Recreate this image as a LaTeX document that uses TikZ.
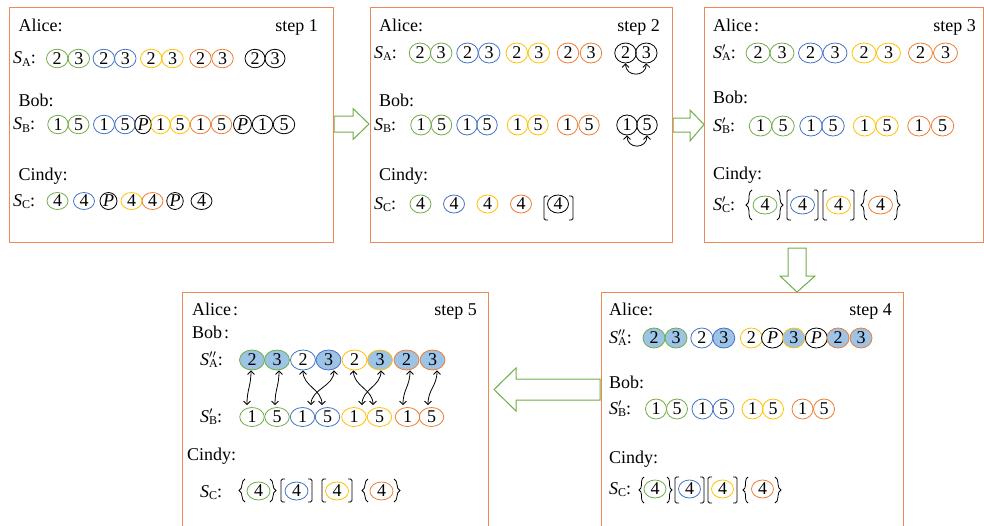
\documentclass[tikz,border=0pt]{standalone}
\usepackage{fontspec}
\setmainfont{Liberation Serif}
\usetikzlibrary{shapes.geometric,decorations.pathreplacing,calc,arrows.meta}
\definecolor{cg}{HTML}{70AD47}
\definecolor{cb}{HTML}{4472C4}
\definecolor{cy}{HTML}{FFC000}
\definecolor{cr}{HTML}{ED7D31}
\definecolor{ck}{HTML}{000000}
\definecolor{cf}{HTML}{9DC3E6}
\definecolor{cw}{HTML}{FFFFFF}
\definecolor{frm}{HTML}{EE8A55}
\newcommand\Slab[2]{\textit{S}\rlap{$^{#2}$}\raisebox{-0.35ex}{\fontsize{12}{12}\selectfont #1}}
\newcommand\mysq[4]{\draw[brk] (#2,#3) -- (#1,#3) -- (#1,#4) -- (#2,#4);}
\newcommand\mylb[4]{\draw[brc=#4] (#1,#3) -- (#1,#2);}
\newcommand\myrb[4]{\draw[brc=#4] (#1,#2) -- (#1,#3);}
\begin{document}
\begin{tikzpicture}[x=1pt,y=-1pt,
  txt/.style={inner sep=0pt, font=\fontsize{18}{18}\selectfont},
  cir/.style={ellipse, draw=#1, line width=0.8pt, inner sep=0pt, font=\fontsize{18}{18}\selectfont},
  frame/.style={draw=frm, line width=1pt},
  barrow/.style={draw=cg, line width=1pt, fill=white, line join=miter},
  brk/.style={line width=0.8pt, rounded corners=1.5pt},
  brc/.style={line width=0.8pt, decorate, decoration={brace, amplitude=#1}},
  dbl/.style={{Straight Barb[length=3.5pt,width=7pt]}-{Straight Barb[length=3.5pt,width=7pt]}, line width=0.8pt},
]
\useasboundingbox (0,0) rectangle (984,525);
% block arrows
\draw[barrow] (334,116) -- (353,116) -- (353,108.5) -- (369,124) -- (353,139.5) -- (353,132) -- (334,132) -- cycle;
\draw[barrow] (673,118) -- (690,118) -- (690,110) -- (704,124.5) -- (690,141) -- (690,132) -- (673,132) -- cycle;
\draw[barrow] (788,248) -- (806,248) -- (806,276) -- (815,276) -- (797,292) -- (780,276) -- (788,276) -- cycle;
\draw[barrow] (600,379) -- (516,379) -- (516,368) -- (494,389.5) -- (516,411) -- (516,400) -- (600,400) -- cycle;
% frames
\draw[frame] (9,7) rectangle (333,242);
\draw[frame] (370,7) rectangle (672.7,242);
\draw[frame] (704,7) rectangle (983,242);
\draw[frame] (601,292) rectangle (903,530);
\draw[frame] (182,292) rectangle (488,530);

% ---------- step 1 ----------
\node[txt,anchor=base west] (al1) at (18.5,31) {Alice:};
\node[txt,anchor=base east] (st1) at (318,31) {step 1};
\node[txt,anchor=base west] (bo1) at (18.5,106) {Bob:};
\node[txt,anchor=base west] (ci1) at (18.5,180) {Cindy:};
\node[txt,anchor=base west] (l1a) at (13,63.5) {\Slab{A}{}:};
\node[txt,anchor=base west] (l1b) at (13,129.5) {\Slab{B}{}:};
\node[txt,anchor=base west] (l1c) at (13,206) {\Slab{C}{}:};
\foreach \ii/\x/\cc/\tx/\w in {1/57.2/cg/2/21.5, 2/78.8/cg/3/21.5, 3/103.8/cb/2/21.5, 4/125.3/cb/3/21.5, 5/151.2/cy/2/21.5, 6/172.5/cy/3/21.5, 7/200.5/cr/2/21.5, 8/222.5/cr/3/21.5, 9/255/ck/2/20, 10/275/ck/3/20}
  \node[cir=\cc, minimum width=\w pt, minimum height=18.5pt] (s1a\ii) at (\x,58.5) {\tx};
\foreach \ii/\x/\cc/\tx/\w in {1/58/cg/1/20.5, 2/78.5/cg/5/21, 3/104/cb/1/21, 4/125/cb/5/20.5, 5/143/ck/{\itshape P}/16.5, 6/160.5/cy/1/19.5, 7/180/cy/5/19.5, 8/200.5/cr/1/20.5, 9/221.5/cr/5/20.5, 10/242.5/ck/{\itshape P}/18, 11/262.5/ck/1/20.5, 12/284/ck/5/21.5}
  \node[cir=\cc, minimum width=\w pt, minimum height=18.5pt] (s1b\ii) at (\x,124.5) {\tx};
\foreach \ii/\x/\cc/\tx/\w in {1/57.5/cg/4/21, 2/84/cb/4/21, 3/108.5/ck/{\itshape P}/17, 4/131.5/cy/4/21, 5/152.5/cr/4/21, 6/175/ck/{\itshape P}/16.5, 7/201.5/ck/4/21}
  \node[cir=\cc, minimum width=\w pt, minimum height=17pt] (s1c\ii) at (\x,201) {\tx};

% ---------- step 2 ----------
\node[txt,anchor=base west] (al2) at (379,31) {Alice:};
\node[txt,anchor=base east] (st2) at (660,31) {step 2};
\node[txt,anchor=base west] (bo2) at (379,106) {Bob:};
\node[txt,anchor=base west] (ci2) at (379,180) {Cindy:};
\node[txt,anchor=base west] (l2a) at (374,58) {\Slab{A}{}:};
\node[txt,anchor=base west] (l2b) at (374,130) {\Slab{B}{}:};
\node[txt,anchor=base west] (l2c) at (374,209) {\Slab{C}{}:};
\foreach \ii/\x/\cc/\tx in {1/420/cg/2, 2/441.2/cg/3, 3/467.5/cb/2, 4/489.2/cb/3, 5/516.8/cy/2, 6/538.8/cy/3, 7/568/cr/2, 8/591/cr/3, 9/625.5/ck/2, 10/646.3/ck/3}
  \node[cir=\cc, minimum width=21.5pt, minimum height=20pt] (s2a\ii) at (\x,53) {\tx};
\foreach \ii/\x/\cc/\tx in {1/421/cg/1, 2/441.5/cg/5, 3/467/cb/1, 4/487/cb/5, 5/517.5/cy/1, 6/538/cy/5, 7/567.5/cr/1, 8/589/cr/5, 9/627/ck/1, 10/647/ck/5}
  \node[cir=\cc, minimum width=20.5pt, minimum height=20pt] (s2b\ii) at (\x,125) {\tx};
\foreach \ii/\x/\cc in {1/420.5/cg, 2/454/cb, 3/487.5/cy, 4/521/cr, 5/558/ck}
  \node[cir=\cc, minimum width=21pt, minimum height=18pt] (s2c\ii) at (\x,204) {4};
\draw[dbl] (s2a9.south) .. controls +(0,14) and +(0,14) .. (s2a10.south);
\draw[dbl] (s2b9.south) .. controls +(0,14) and +(0,14) .. (s2b10.south);
\mysq{544}{548}{196}{220}
\mysq{573}{569}{196}{220}

% ---------- step 3 ----------
\node[txt,anchor=base west] (al3) at (713,31) {Alice\kern2pt:};
\node[txt,anchor=base east] (st3) at (976,31) {step 3};
\node[txt,anchor=base west] (bo3) at (713,103) {Bob:};
\node[txt,anchor=base west] (ci3) at (713,179) {Cindy:};
\node[txt,anchor=base west] (l3a) at (713,58) {\Slab{A}{\prime}:};
\node[txt,anchor=base west] (l3b) at (713,131) {\Slab{B}{\prime}:};
\node[txt,anchor=base west] (l3c) at (713,210) {\Slab{C}{\prime}:};
\foreach \ii/\x/\cc/\tx in {1/758/cg/2, 2/782/cg/3, 3/810.5/cb/2, 4/835/cb/3, 5/864/cy/2, 6/888.5/cy/3, 7/920.5/cr/2, 8/945.5/cr/3}
  \node[cir=\cc, minimum width=24pt, minimum height=20pt] (s3a\ii) at (\x,53) {\tx};
\foreach \ii/\x/\cc/\tx in {1/760.5/cg/1, 2/783/cg/5, 3/811/cb/1, 4/833/cb/5, 5/864.5/cy/1, 6/887/cy/5, 7/919/cr/1, 8/942.5/cr/5}
  \node[cir=\cc, minimum width=22.5pt, minimum height=20pt] (s3b\ii) at (\x,126) {\tx};
\foreach \ii/\x/\cc in {1/765/cg, 2/802.5/cb, 3/838.5/cy, 4/880.5/cr}
  \node[cir=\cc, minimum width=24pt, minimum height=18pt] (s3c\ii) at (\x,205) {4};
\mylb{752}{190}{220}{6pt}
\myrb{777}{190}{220}{6pt}
\mysq{787}{791}{190}{220}
\mysq{818}{814}{190}{220}
\mysq{823}{827}{190}{220}
\mysq{854}{850}{190}{220}
\mylb{867}{190}{220}{6pt}
\myrb{894}{190}{220}{6pt}

% ---------- step 4 ----------
\node[txt,anchor=base west] (al4) at (609,315) {Alice:};
\node[txt,anchor=base east] (st4) at (892,315) {step 4};
\node[txt,anchor=base west] (bo4) at (609,388) {Bob:};
\node[txt,anchor=base west] (ci4) at (609,463) {Cindy:};
\node[txt,anchor=base west] (l4a) at (609,343) {\Slab{A}{\prime\prime}:};
\node[txt,anchor=base west] (l4b) at (609,414) {\Slab{B}{\prime}:};
\node[txt,anchor=base west] (l4c) at (609,494) {\Slab{C}{}:};
\foreach \ii/\x/\cc/\tx/\ff in {1/654/cg/2/cf, 2/676/cg/3/cf, 3/701.8/cb/2/cw, 4/723.8/cb/3/cf, 5/751.3/cy/2/cw, 6/772.5/ck/{\itshape P}/cw, 7/793.8/cy/3/cf, 8/816.3/ck/{\itshape P}/cw, 9/838/cr/2/cf, 10/861/cr/3/cf}
  \node[cir=\cc, fill=\ff, minimum width=22pt, minimum height=20pt] (s4a\ii) at (\x,338) {\tx};
\foreach \ii/\x/\cc/\tx in {1/656/cg/1, 2/677/cg/5, 3/702.5/cb/1, 4/723.5/cb/5, 5/752.5/cy/1, 6/773/cy/5, 7/802.5/cr/1, 8/824/cr/5}
  \node[cir=\cc, minimum width=21pt, minimum height=20pt] (s4b\ii) at (\x,409) {\tx};
\foreach \ii/\x/\cc in {1/655/cg, 2/689.5/cb, 3/722.5/cy, 4/762.5/cr}
  \node[cir=\cc, minimum width=22pt, minimum height=18pt] (s4c\ii) at (\x,489) {4};
\mylb{644}{477}{503}{5pt}
\myrb{667}{477}{503}{5pt}
\mysq{675}{679}{477}{503}
\mysq{704}{700}{477}{503}
\mysq{708}{712}{477}{503}
\mysq{737}{733}{477}{503}
\mylb{748}{477}{503}{5pt}
\myrb{775}{477}{503}{6pt}

% ---------- step 5 ----------
\node[txt,anchor=base west] (al5) at (192,315) {Alice\kern2pt:};
\node[txt,anchor=base east] (st5) at (477,315) {step 5};
\node[txt,anchor=base west] (bo5) at (192,338) {Bob\kern2pt:};
\node[txt,anchor=base west] (ci5) at (187,460) {Cindy:};
\node[txt,anchor=base west] (l5a) at (200,365) {\Slab{A}{\prime\prime}:};
\node[txt,anchor=base west] (l5b) at (200,422) {\Slab{B}{\prime}:};
\node[txt,anchor=base west] (l5c) at (200,497) {\Slab{C}{}:};
\foreach \ii/\x/\cc/\tx/\ff in {1/252/cg/2/cf, 2/277/cg/3/cf, 3/303/cb/2/cw, 4/328.5/cb/3/cf, 5/354.5/cy/2/cw, 6/380/cy/3/cf, 7/406.5/cr/2/cf, 8/432.5/cr/3/cf}
  \node[cir=\cc, fill=\ff, minimum width=25pt, minimum height=20pt] (s5a\ii) at (\x,360) {\tx};
\foreach \ii/\x/\cc/\tx in {1/252/cg/1, 2/277/cg/5, 3/302.5/cb/1, 4/327.5/cb/5, 5/354/cy/1, 6/379.5/cy/5, 7/407.5/cr/1, 8/431.5/cr/5}
  \node[cir=\cc, minimum width=24.5pt, minimum height=19pt] (s5b\ii) at (\x,417) {\tx};
\foreach \ii/\x/\cc in {1/258.5/cg, 2/296.5/cb, 3/337/cy, 4/381.5/cr}
  \node[cir=\cc, minimum width=23pt, minimum height=18pt] (s5c\ii) at (\x,491) {4};
\mylb{245}{479}{502}{6pt}
\myrb{270}{479}{502}{6pt}
\mysq{281}{285}{479}{502}
\mysq{312}{308}{479}{502}
\mysq{322}{326}{479}{502}
\mysq{352}{348}{479}{502}
\mylb{368}{479}{502}{6pt}
\myrb{394}{479}{502}{6pt}
\foreach \ta/\tdx/\bb/\bdx in {1/-1/1/-5, 2/2/2/-2, 3/0/4/-5.5, 4/5.5/3/8.5, 5/-1/6/-6.5, 6/1/5/8, 7/3.5/7/-4.5, 8/4.5/8/-3.5}
  \draw[dbl] ($(s5a\ta.south)+(\tdx,0)$) .. controls +(0,16) and +(0,-16) .. ($(s5b\bb.north)+(\bdx,-2)$);
\end{tikzpicture}
\end{document}
